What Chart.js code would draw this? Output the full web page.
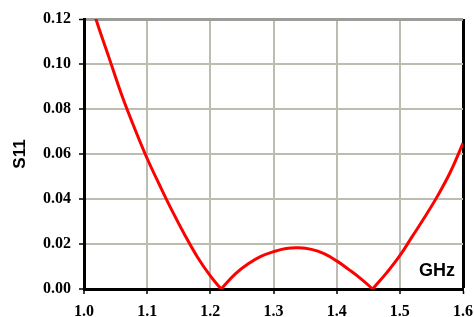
<!DOCTYPE html>
<html>
<head>
<meta charset="utf-8">
<script src="https://cdn.jsdelivr.net/npm/chart.js@4"></script>
<style>
  html, body { margin: 0; padding: 0; background: #fff; }
  #wrap { width: 474px; height: 317px; }
</style>
</head>
<body>
<div id="wrap"><canvas id="s11Chart"></canvas></div>
<script>
// S11 vs frequency (three pieces so the dips stay sharp)
const leftFreq = [1.00, 1.02, 1.04, 1.06, 1.08, 1.10, 1.12, 1.14, 1.16, 1.18, 1.20, 1.217];
const leftS11  = [0.137, 0.119, 0.1025, 0.086, 0.0715, 0.058, 0.046, 0.0345, 0.0238, 0.014, 0.0058, 0];

const humpFreq = [1.217, 1.24, 1.26, 1.28, 1.30, 1.32, 1.34, 1.36, 1.38, 1.40, 1.42, 1.44, 1.457];
const humpS11  = [0, 0.0068, 0.0112, 0.0145, 0.0166, 0.0180, 0.0183, 0.0176, 0.0157, 0.0125, 0.0085, 0.0042, 0];

const rightFreq = [1.457, 1.48, 1.50, 1.52, 1.54, 1.56, 1.58, 1.60];
const rightS11  = [0, 0.0075, 0.0148, 0.0235, 0.0322, 0.0415, 0.052, 0.0648];

const xTickLabels = ['1.0', '1.1', '1.2', '1.3', '1.4', '1.5', '1.6'];
const yTickLabels = ['0.00', '0.02', '0.04', '0.06', '0.08', '0.10', '0.12'];

const GRID = '#bcbcb0';
const tickFont = { family: 'Liberation Serif', size: 16, weight: 'bold' };

function toPoints(xs, ys) {
    return xs.map((x, i) => ({ x: x, y: ys[i] }));
}

function curve(xs, ys) {
    return {
        data: toPoints(xs, ys),
        borderColor: '#ff0000',
        borderWidth: 3,
        pointRadius: 0,
        showLine: true,
        tension: 0.4,
        clip: 0
    };
}

// "GHz" sits inside the plot, bottom right
const unitLabel = {
    id: 'unitLabel',
    afterDatasetsDraw(chart) {
        const ctx = chart.ctx;
        ctx.save();
        ctx.fillStyle = '#000';
        ctx.font = 'bold 18px "Liberation Sans"';
        ctx.textAlign = 'right';
        ctx.textBaseline = 'alphabetic';
        ctx.fillText('GHz', chart.chartArea.right - 8, chart.chartArea.bottom - 13);
        ctx.restore();
    }
};

new Chart(document.getElementById('s11Chart'), {
    type: 'scatter',
    data: {
        datasets: [
            curve(leftFreq, leftS11),
            curve(humpFreq, humpS11),
            curve(rightFreq, rightS11)
        ]
    },
    options: {
        responsive: true,
        maintainAspectRatio: false,
        animation: false,
        layout: { padding: { top: 19, right: 11, left: 0, bottom: 0 } },
        plugins: {
            legend: { display: false },
            tooltip: { enabled: false }
        },
        scales: {
            x: {
                type: 'linear',
                min: 1.0,
                max: 1.6,
                ticks: {
                    stepSize: 0.1,
                    color: '#000',
                    font: tickFont,
                    padding: 8,
                    callback: (v) => xTickLabels[Math.round((v - 1.0) * 10)]
                },
                grid: {
                    color: (c) => (c.tick && Math.abs(c.tick.value - 1.6) < 1e-6) ? '#000' : GRID,
                    lineWidth: (c) => (c.tick && Math.abs(c.tick.value - 1.6) < 1e-6) ? 3 : 2,
                    tickColor: '#000',
                    tickLength: 5,
                    tickWidth: 1.5
                },
                border: { color: '#000', width: 3 },
                afterFit: (scale) => {
                    scale.height = 28;
                    scale.paddingLeft = 0;
                    scale.paddingRight = 0;
                }
            },
            y: {
                min: 0,
                max: 0.12,
                ticks: {
                    stepSize: 0.02,
                    color: '#000',
                    font: tickFont,
                    padding: 8,
                    callback: (v) => yTickLabels[Math.round(v * 50)]
                },
                grid: {
                    color: (c) => (c.tick && Math.abs(c.tick.value - 0.12) < 1e-6) ? '#9c9c98' : GRID,
                    lineWidth: (c) => (c.tick && Math.abs(c.tick.value - 0.12) < 1e-6) ? 3 : 2,
                    tickColor: '#000',
                    tickLength: 5,
                    tickWidth: 1.5
                },
                border: { color: '#000', width: 3 },
                title: {
                    display: true,
                    text: 'S11',
                    color: '#000',
                    font: { family: 'Liberation Sans', size: 17, weight: 'bold' },
                    padding: { top: 10, bottom: 0 }
                },
                afterFit: (scale) => { scale.width = 84; }
            }
        }
    },
    plugins: [unitLabel]
});
</script>
</body>
</html>
